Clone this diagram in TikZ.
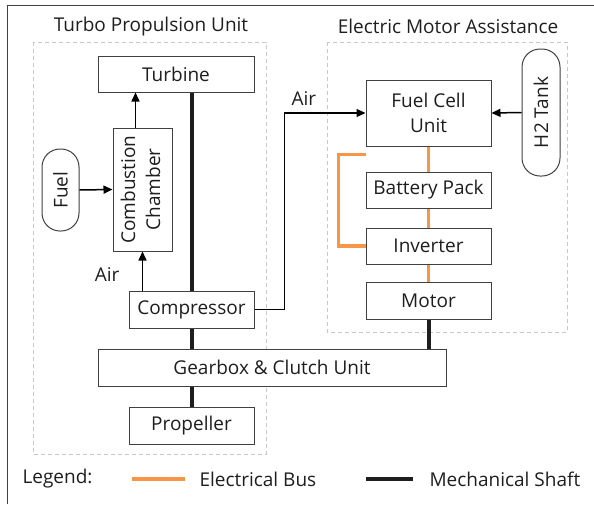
\documentclass[tikz,border=0pt]{standalone}
\usepackage{fontspec}
\setmainfont{Open Sans}
\usetikzlibrary{arrows.meta,
                positioning}
\definecolor{inkgray}{HTML}{1E1E1E}
\definecolor{linegray}{HTML}{404040}
\definecolor{framegray}{HTML}{C8C8C8}
\definecolor{busorange}{HTML}{F79646}
\tikzset{
    block/.style={draw=linegray, line width=1pt, fill=white, text=inkgray,
                  inner sep=0pt, align=center, minimum width=125pt, minimum height=37pt},
    tank/.style={block, rounded corners=18pt},
    group/.style={draw=framegray, line width=1pt, dash pattern=on 4pt off 3pt},
    flow/.style={draw=black, line width=1.5pt, -{Triangle[length=9pt,width=8pt]}},
    shaft/.style={draw=inkgray, line width=4pt},
    bus/.style={draw=busorange, line width=3.5pt},
    caption/.style={text=inkgray}
}
\begin{document}
\begin{tikzpicture}[x=1pt, y=-1pt, font=\fontsize{19}{25}\selectfont]
        \useasboundingbox (0,0) rectangle (594,504);
        \draw[linegray, line width=1pt] (7,504) -- (7,5) -- (594,5);
        \draw[group] (33,42) rectangle (266,454);
        \draw[group] (327,42) rectangle (567,332);
        \node[caption] (turbotitle) at (151,27) {Turbo Propulsion Unit};
        \node[caption] (electitle) at (448,26) {Electric Motor Assistance};

        \node[block, minimum width=156pt, minimum height=36pt] (turbine) at (176,74) {Turbine};
        \node[block, minimum width=59pt, minimum height=123pt] (chamber) at (142.5,189.5) {\rotatebox{90}{\begin{tabular}{@{}c@{}}Combustion\\Chamber\end{tabular}}};
        \node[tank, minimum width=37pt, minimum height=82pt] (fuel) at (60.5,190) {\rotatebox{90}{Fuel}};
        \node[block] (compressor) at (191.5,309.5) {Compressor};
        \node[block, minimum width=348pt] (gearbox) at (272,367.5) {Gearbox \& Clutch Unit};
        \node[block] (propeller) at (191.5,425.5) {Propeller};

        \node[block, minimum height=66pt] (fuelcell) at (428.5,113) {Fuel Cell\\Unit};
        \node[block, minimum height=36pt] (battery) at (428.5,190) {Battery Pack};
        \node[block, minimum height=36pt] (inverter) at (428.5,246) {Inverter};
        \node[block] (motor) at (428.5,300.5) {Motor};
        \node[tank, minimum width=38pt, minimum height=127pt] (htank) at (541,112.5) {\rotatebox{90}{H2 Tank}};

        \draw[shaft] (compressor.north) -- (compressor.north |- turbine.south);
        \draw[shaft] (compressor.south) -- (compressor.south |- gearbox.north);
        \draw[shaft] (propeller.north) -- (propeller.north |- gearbox.south);
        \draw[shaft] (motor.south) -- (motor.south |- gearbox.north);

        \draw[bus] (fuelcell.south) -- (battery.north);
        \draw[bus] (battery.south) -- (inverter.north);
        \draw[bus] (inverter.south) -- (motor.north);
        \draw[bus] ([yshift=-8pt]fuelcell.south west) -- ++(-27,0) |- (inverter.west);

        \draw[flow] (fuel.east) -- (chamber.west);
        \draw[flow] ([xshift=-7pt]chamber.north) -- ([xshift=-7pt]chamber.north |- turbine.south);
        \draw[flow] (chamber.south |- compressor.north) -- node[caption, pos=0.4, left=19pt] (airone) {Air} (chamber.south);
        \draw[flow, line width=1.2pt] (compressor.east) -- ++(30,0) coordinate (airbend) |- node[caption, pos=0.62, above=4pt] (airtwo) {Air} (fuelcell.west);
        \draw[flow] (htank.west) -- (fuelcell.east);

        \node[caption, anchor=west] (legend) at (19,479) {Legend:};
        \draw[bus] (132,479) coordinate (busa) -- (185,479) coordinate (busb);
        \node[caption, anchor=west] (buslabel) at (196,479) {Electrical Bus};
        \draw[shaft] (366,479) coordinate (shafta) -- (413,479) coordinate (shaftb);
        \node[caption, anchor=west] (shaftlabel) at (426,479) {Mechanical Shaft};
    \end{tikzpicture}
\end{document}
